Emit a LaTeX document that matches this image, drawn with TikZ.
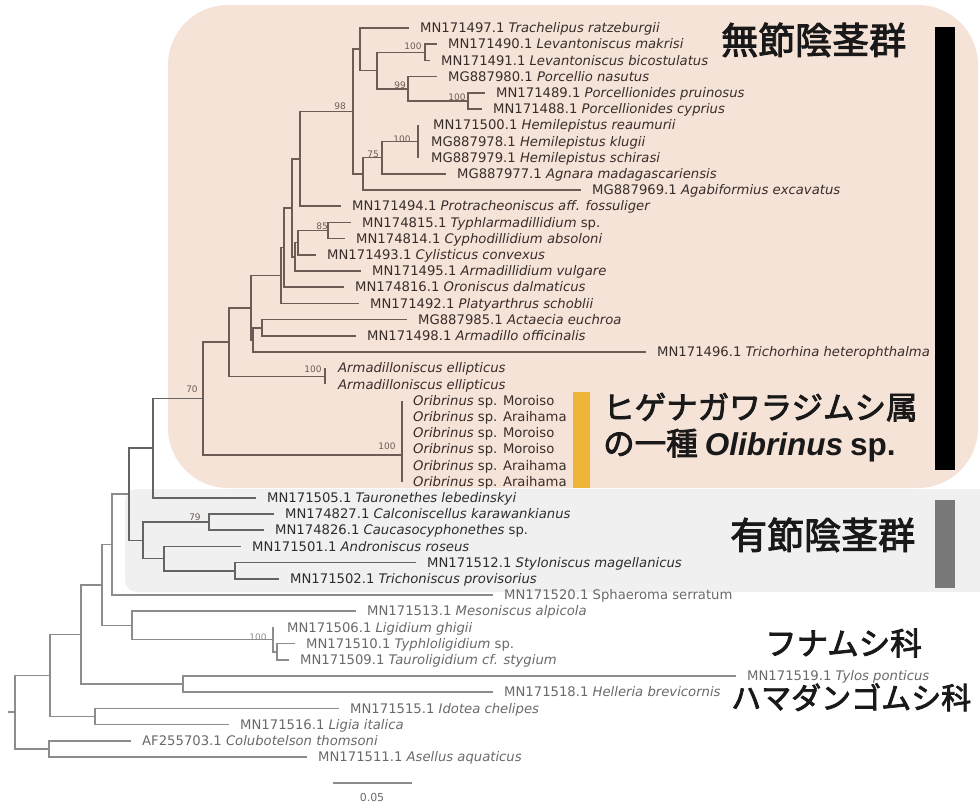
\documentclass[tikz,border=0pt]{standalone}
\usepackage{fontspec}
\setmainfont{DejaVu Sans}
\newfontfamily\jpfont{Noto Sans CJK JP}[FakeBold=2.6]
\newfontfamily\arfont{Liberation Sans}
\definecolor{pinkbg}{RGB}{246,227,215}
\definecolor{graybg}{RGB}{240,240,240}
\definecolor{lineP}{RGB}{108,92,86}
\definecolor{lineG}{RGB}{100,100,100}
\definecolor{lineO}{RGB}{140,140,140}
\definecolor{txtP}{RGB}{55,45,43}
\definecolor{txtG}{RGB}{45,45,45}
\definecolor{txtO}{RGB}{105,105,105}
\definecolor{barorange}{RGB}{240,180,55}
\definecolor{bargray}{RGB}{120,120,120}
\newcommand\mkleaf[6]{\coordinate (t#1) at (#2,#3);\node[#5] (n#1) at (#4,#3) {#6};}
\begin{document}
\begin{tikzpicture}[x=1pt,y=-1pt,
  brP/.style={draw=lineP,line width=1.6pt},
  brG/.style={draw=lineG,line width=1.6pt},
  brO/.style={draw=lineO,line width=1.6pt},
  lf/.style={anchor=base west,inner sep=0pt,yshift=-4.6pt,font=\fontsize{13.2}{15}\selectfont},
  lfP/.style={lf,text=txtP},
  lfG/.style={lf,text=txtG},
  lfO/.style={lf,text=txtO},
  bs/.style={font=\fontsize{9}{10}\selectfont,inner sep=0pt},
  bsP/.style={bs,text=lineP},
  bsO/.style={bs,text=lineO},
  jp/.style={anchor=base west,inner sep=0pt,text=black!90}]
\useasboundingbox (0,0) rectangle (980,803);
% backgrounds
\fill[graybg,rounded corners=12pt] (125,489) rectangle (992,592);
\fill[pinkbg,rounded corners=60pt] (168,5) rectangle (978,488);
\fill[black] (935,27) rectangle (955,470);
\fill[bargray] (935,500) rectangle (955,588);
\fill[barorange] (573,392) rectangle (590,488);
% internal nodes
\coordinate (rs) at (8,712.2);
\coordinate (root) at (15,712.2);
\coordinate (A) at (50,675.5);
\coordinate (B) at (49,748.9);
\coordinate (C) at (81,634.5);
\coordinate (D) at (95,716.5);
\coordinate (E) at (102,585);
\coordinate (F) at (183,684.1);
\coordinate (G) at (112,544.6);
\coordinate (H) at (132,625.4);
\coordinate (I) at (273,639.5);
\coordinate (J) at (277,651.7);
\coordinate (K) at (129,494.2);
\coordinate (L) at (153,448.2);
\coordinate (M) at (143,540.3);
\coordinate (N) at (209,522.1);
\coordinate (O) at (164,558.5);
\coordinate (P) at (235,570.7);
\coordinate (Q) at (203,398.5);
\coordinate (Ori) at (402,455);
\coordinate (R) at (229,342);
\coordinate (Arm) at (325,376.3);
\coordinate (S) at (251,307.7);
\coordinate (S2) at (253,339.9);
\coordinate (U) at (262,327.7);
\coordinate (T) at (281,275.5);
\coordinate (T2) at (284,247.5);
\coordinate (X) at (292,207.9);
\coordinate (Y) at (295,256.8);
\coordinate (Z) at (298,242.65);
\coordinate (Z85) at (328,230.5);
\coordinate (V) at (300,158.9);
\coordinate (W) at (353,111.5);
\coordinate (W1) at (360,49.25);
\coordinate (W1b) at (377,70.5);
\coordinate (Lev) at (425,52.3);
\coordinate (Porc) at (408,88.75);
\coordinate (P100) at (468,100.9);
\coordinate (W2) at (363,173.8);
\coordinate (H75) at (382,157.6);
\coordinate (Hem) at (418,141.4);
% leaves
\mkleaf{1}{409}{28}{420}{lfP}{MN171497.1 \textit{Trachelipus ratzeburgii}}
\mkleaf{2}{437}{44.2}{448}{lfP}{MN171490.1 \textit{Levantoniscus makrisi}}
\mkleaf{3}{430}{60.4}{441}{lfP}{MN171491.1 \textit{Levantoniscus bicostulatus}}
\mkleaf{4}{437}{76.6}{448}{lfP}{MG887980.1 \textit{Porcellio nasutus}}
\mkleaf{5}{485}{92.8}{496}{lfP}{MN171489.1 \textit{Porcellionides pruinosus}}
\mkleaf{6}{482}{109}{493}{lfP}{MN171488.1 \textit{Porcellionides cyprius}}
\mkleaf{7}{418}{125.2}{433}{lfP}{MN171500.1 \textit{Hemilepistus reaumurii}}
\mkleaf{8}{418}{141.4}{431}{lfP}{MG887978.1 \textit{Hemilepistus klugii}}
\mkleaf{9}{418}{157.6}{431}{lfP}{MG887979.1 \textit{Hemilepistus schirasi}}
\mkleaf{10}{446}{173.8}{457}{lfP}{MG887977.1 \textit{Agnara madagascariensis}}
\mkleaf{11}{581}{190}{592}{lfP}{MG887969.1 \textit{Agabiformius excavatus}}
\mkleaf{12}{341}{206.2}{352}{lfP}{MN171494.1 \textit{Protracheoniscus aff. fossuliger}}
\mkleaf{13}{351}{222.4}{362}{lfP}{MN174815.1 \textit{Typhlarmadillidium} sp.}
\mkleaf{14}{345}{238.6}{356}{lfP}{MN174814.1 \textit{Cyphodillidium absoloni}}
\mkleaf{15}{316}{254.8}{327}{lfP}{MN171493.1 \textit{Cylisticus convexus}}
\mkleaf{16}{361}{271}{372}{lfP}{MN171495.1 \textit{Armadillidium vulgare}}
\mkleaf{17}{344}{287.2}{355}{lfP}{MN174816.1 \textit{Oroniscus dalmaticus}}
\mkleaf{18}{359}{303.4}{370}{lfP}{MN171492.1 \textit{Platyarthrus schoblii}}
\mkleaf{19}{407}{319.6}{418}{lfP}{MG887985.1 \textit{Actaecia euchroa}}
\mkleaf{20}{356}{335.8}{367}{lfP}{MN171498.1 \textit{Armadillo officinalis}}
\mkleaf{21}{646}{352}{657}{lfP}{MN171496.1 \textit{Trichorhina heterophthalma}}
\mkleaf{22}{325}{368.2}{338}{lfP}{\textit{Armadilloniscus ellipticus}}
\mkleaf{23}{325}{384.4}{338}{lfP}{\textit{Armadilloniscus ellipticus}}
\mkleaf{24}{402}{400.6}{413}{lfP}{\textit{Oribrinus} sp. Moroiso}
\mkleaf{25}{402}{416.8}{413}{lfP}{\textit{Oribrinus} sp. Araihama}
\mkleaf{26}{402}{433}{413}{lfP}{\textit{Oribrinus} sp. Moroiso}
\mkleaf{27}{402}{449.2}{413}{lfP}{\textit{Oribrinus} sp. Moroiso}
\mkleaf{28}{402}{465.4}{413}{lfP}{\textit{Oribrinus} sp. Araihama}
\mkleaf{29}{402}{481.6}{413}{lfP}{\textit{Oribrinus} sp. Araihama}
\mkleaf{30}{256}{497.8}{267}{lfG}{MN171505.1 \textit{Tauronethes lebedinskyi}}
\mkleaf{31}{274}{514}{285}{lfG}{MN174827.1 \textit{Calconiscellus karawankianus}}
\mkleaf{32}{264}{530.2}{275}{lfG}{MN174826.1 \textit{Caucasocyphonethes} sp.}
\mkleaf{33}{241}{546.4}{252}{lfG}{MN171501.1 \textit{Androniscus roseus}}
\mkleaf{34}{416}{562.6}{427}{lfG}{MN171512.1 \textit{Styloniscus magellanicus}}
\mkleaf{35}{279}{578.8}{290}{lfG}{MN171502.1 \textit{Trichoniscus provisorius}}
\mkleaf{36}{493}{595}{504}{lfO}{MN171520.1 Sphaeroma serratum}
\mkleaf{37}{356}{611.2}{367}{lfO}{MN171513.1 \textit{Mesoniscus alpicola}}
\mkleaf{38}{273}{627.4}{287}{lfO}{MN171506.1 \textit{Ligidium ghigii}}
\mkleaf{39}{295}{643.6}{306}{lfO}{MN171510.1 \textit{Typhloligidium} sp.}
\mkleaf{40}{289}{659.8}{300}{lfO}{MN171509.1 \textit{Tauroligidium cf. stygium}}
\mkleaf{41}{736}{676}{747}{lfO}{MN171519.1 \textit{Tylos ponticus}}
\mkleaf{42}{493}{692.2}{504}{lfO}{MN171518.1 \textit{Helleria brevicornis}}
\mkleaf{43}{339}{708.4}{350}{lfO}{MN171515.1 \textit{Idotea chelipes}}
\mkleaf{44}{229}{724.6}{240}{lfO}{MN171516.1 \textit{Ligia italica}}
\mkleaf{45}{131}{740.8}{142}{lfO}{AF255703.1 \textit{Colubotelson thomsoni}}
\mkleaf{46}{307}{757}{318}{lfO}{MN171511.1 \textit{Asellus aquaticus}}
% outer branches
\draw[brO] (rs) -- (root);
\draw[brO] (root) |- (A); \draw[brO] (root) |- (B);
\draw[brO] (B) |- (t45); \draw[brO] (B) |- (t46);
\draw[brO] (A) |- (C); \draw[brO] (A) |- (D);
\draw[brO] (D) |- (t43); \draw[brO] (D) |- (t44);
\draw[brO] (C) |- (E); \draw[brO] (C) |- (F);
\draw[brO] (F) |- (t41); \draw[brO] (F) |- (t42);
\draw[brO] (E) |- (G); \draw[brO] (E) |- (H);
\draw[brO] (H) |- (t37); \draw[brO] (H) |- (I);
\draw[brO] (I) |- (t38); \draw[brO] (I) |- (J);
\draw[brO] (J) |- (t39); \draw[brO] (J) |- (t40);
\draw[brO] (G) |- (t36); \draw[brO] (G) |- (K);
% gray region branches
\draw[brG] (K) |- (L); \draw[brG] (K) |- (M);
\draw[brG] (M) |- (N); \draw[brG] (M) |- (O);
\draw[brG] (N) |- (t31); \draw[brG] (N) |- (t32);
\draw[brG] (O) |- (t33); \draw[brG] (O) |- (P);
\draw[brG] (P) |- (t34); \draw[brG] (P) |- (t35);
\draw[brG] (L) |- (t30); \draw[brG] (L) |- (Q);
% pink region branches
\draw[brP] (Q) |- (R); \draw[brP] (Q) |- (Ori);
\foreach \k in {24,...,29} {\draw[brP] (Ori) |- (t\k);}
\draw[brP] (R) |- (S); \draw[brP] (R) |- (Arm);
\draw[brP] (Arm) |- (t22); \draw[brP] (Arm) |- (t23);
\draw[brP] (S) |- (T); \draw[brP] (S) |- (S2);
\draw[brP] (S2) |- (U); \draw[brP] (S2) |- (t21);
\draw[brP] (U) |- (t19); \draw[brP] (U) |- (t20);
\draw[brP] (T) |- (T2); \draw[brP] (T) |- (t18);
\draw[brP] (T2) |- (X); \draw[brP] (T2) |- (t17);
\draw[brP] (X) |- (V); \draw[brP] (X) |- (Y);
\draw[brP] (Y) |- (Z); \draw[brP] (Y) |- (t16);
\draw[brP] (Z) |- (Z85); \draw[brP] (Z) |- (t15);
\draw[brP] (Z85) |- (t13); \draw[brP] (Z85) |- (t14);
\draw[brP] (V) |- (W); \draw[brP] (V) |- (t12);
\draw[brP] (W) |- (W1); \draw[brP] (W) |- (W2);
\draw[brP] (W1) |- (t1); \draw[brP] (W1) |- (W1b);
\draw[brP] (W1b) |- (Lev); \draw[brP] (W1b) |- (Porc);
\draw[brP] (Lev) |- (t2); \draw[brP] (Lev) |- (t3);
\draw[brP] (Porc) |- (t4); \draw[brP] (Porc) |- (P100);
\draw[brP] (P100) |- (t5); \draw[brP] (P100) |- (t6);
\draw[brP] (W2) |- (H75); \draw[brP] (W2) |- (t11);
\draw[brP] (H75) |- (Hem); \draw[brP] (H75) |- (t10);
\draw[brP] (Hem) |- (t7); \draw[brP] (Hem) |- (t8); \draw[brP] (Hem) |- (t9);
% bootstrap values
\node[bsP] (b1) at (413,46) {100};
\node[bsP] (b2) at (400,85) {99};
\node[bsP] (b3) at (457,97) {100};
\node[bsP] (b4) at (340,106) {98};
\node[bsP] (b5) at (402,139) {100};
\node[bsP] (b6) at (373,154) {75};
\node[bsP] (b7) at (322,226) {85};
\node[bsP] (b8) at (313,369) {100};
\node[bsP] (b9) at (192,389) {70};
\node[bsP] (b10) at (387,446) {100};
\node[bsP] (b11) at (195,517) {79};
\node[bsO] (b12) at (258,637) {100};
% scale bar
\coordinate (sb1) at (333,783);
\coordinate (sb2) at (412,783);
\draw[brO] (sb1) -- (sb2);
\node[font=\fontsize{11}{12}\selectfont,text=txtO,inner sep=0pt] (sbl) at (372,797) {0.05};
% group labels
\node[jp,font=\jpfont\fontsize{37}{40}\selectfont] (g1) at (721,54) {無節陰茎群};
\node[jp,font=\jpfont\fontsize{31.5}{34}\selectfont] (g2) at (603,419) {ヒゲナガワラジムシ属};
\node[jp,font=\jpfont\fontsize{31.5}{34}\selectfont] (g3) at (603,455) {の一種 {\arfont\bfseries\itshape Olibrinus} {\arfont\bfseries sp.}};
\node[jp,font=\jpfont\fontsize{37}{40}\selectfont] (g4) at (730,549) {有節陰茎群};
\node[jp,font=\jpfont\fontsize{31.5}{34}\selectfont] (g5) at (765,655) {フナムシ科};
\node[jp,font=\jpfont\fontsize{30}{33}\selectfont] (g6) at (731,709) {ハマダンゴムシ科};
\end{tikzpicture}
\end{document}
